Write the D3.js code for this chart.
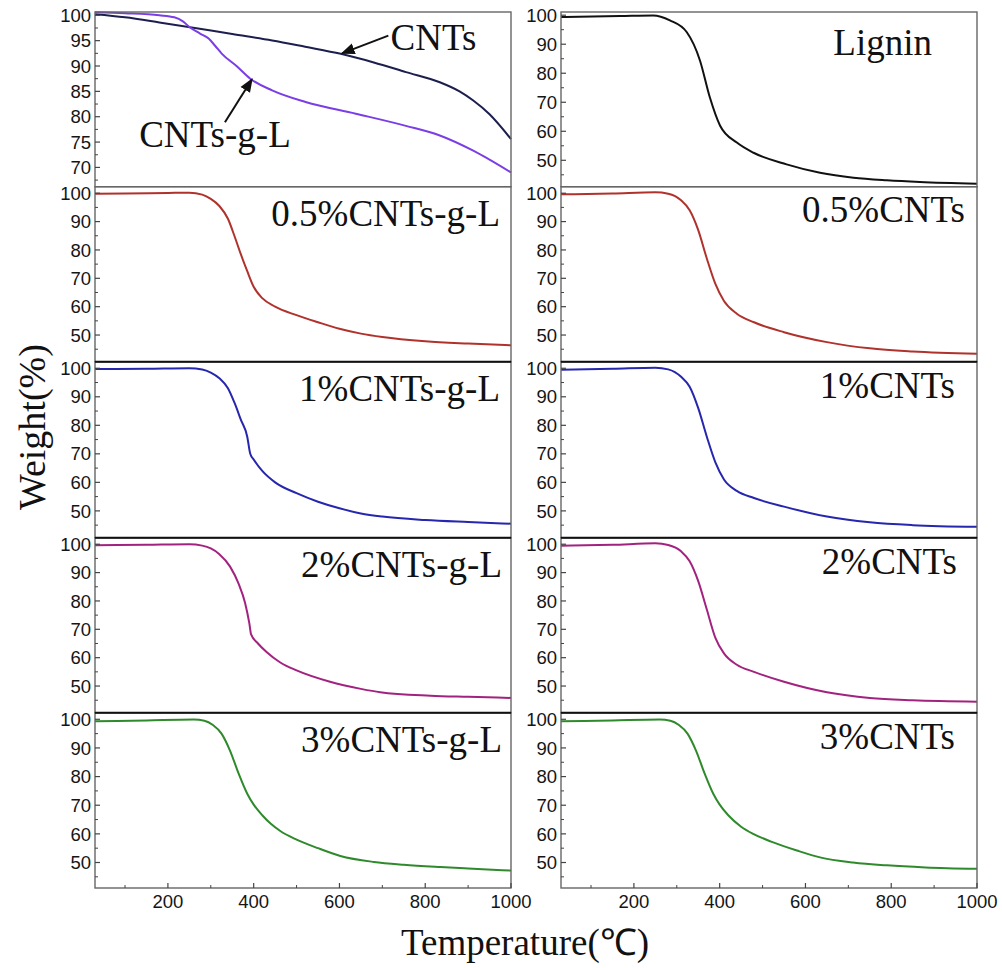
<!DOCTYPE html>
<html><head><meta charset="utf-8">
<script src="https://cdn.jsdelivr.net/npm/d3@7"></script>
<style>body{margin:0;background:#fff}</style>
</head><body><svg id="c" width="1002" height="968" xmlns="http://www.w3.org/2000/svg"></svg>
<script>
// ---- data: [temperature °C, weight %] ----
const seriesCNTs = [[30,100.2],[100,99.6],[180,98.6],[248,97.7],[350,96.3],[443,95.05],[520,93.8],[603,92.4],[680,90.7],[755,88.8],[834,86.8],[880,85.0],[912,83.2],[950,80.5],[1000,75.6]];
const seriesCNTsgL = [[30,100.6],[100,100.4],[180,100.0],[215,99.6],[235,98.8],[250,97.7],[275,96.4],[295,95.4],[310,94.0],[326,92.4],[360,90.0],[392,87.5],[443,85.2],[521,82.9],[638,80.6],[755,78.2],[834,76.3],[912,73.3],[1000,69.0]];
const seriesLignin = [[30,99.4],[168,99.7],[245,99.9],[284,98.2],[323,94.2],[354,84.4],[377,71.7],[401,61.9],[440,56.1],[479,52.6],[556,48.6],[634,45.7],[712,44.0],[790,43.1],[867,42.5],[1000,41.9]];
const series05gL = [[30,99.8],[100,99.9],[200,100.1],[250,100.2],[280,99.5],[300,98.0],[320,95.5],[340,91.0],[355,85.0],[370,78.5],[385,72.5],[400,67.0],[420,63.0],[450,60.0],[500,57.0],[550,54.5],[600,52.2],[650,50.5],[700,49.3],[800,47.8],[900,47.0],[1000,46.4]];
const series05 = [[30,99.6],[150,99.9],[250,100.3],[280,99.8],[310,97.5],[330,94.0],[350,87.0],[370,77.0],[390,68.0],[410,62.0],[440,57.5],[480,54.5],[550,51.0],[650,47.5],[750,45.3],[850,44.2],[1000,43.4]];
const series1gL = [[30,99.7],[150,99.8],[250,100.0],[280,99.6],[300,98.5],[320,96.5],[340,93.0],[355,88.0],[370,82.0],[385,76.0],[392,70.0],[400,68.0],[420,64.0],[450,60.0],[500,56.2],[550,53.2],[600,50.9],[650,49.1],[700,48.0],[800,46.8],[900,46.1],[1000,45.5]];
const series1 = [[30,99.5],[150,99.8],[250,100.2],[280,99.6],[310,97.0],[330,93.5],[350,86.0],[370,76.0],[390,67.0],[410,61.0],[440,57.0],[480,54.5],[550,51.5],[650,48.0],[750,46.0],[850,45.0],[1000,44.4]];
const series2gL = [[30,99.6],[150,99.8],[250,100.0],[280,99.5],[300,98.5],[320,96.5],[345,92.1],[365,86.0],[380,79.3],[390,72.0],[394,68.2],[410,65.0],[430,62.0],[462,58.3],[500,55.5],[578,51.5],[650,49.0],[695,47.8],[812,46.6],[900,46.2],[1000,45.8]];
const series2 = [[30,99.5],[150,99.8],[250,100.3],[280,99.7],[310,97.5],[330,94.0],[350,87.0],[370,77.0],[390,67.0],[410,61.5],[440,57.5],[480,55.0],[550,51.5],[650,47.8],[750,45.8],[850,45.0],[1000,44.5]];
const series3gL = [[30,99.3],[150,99.6],[260,99.9],[285,99.5],[305,98.0],[325,95.0],[345,89.0],[365,81.0],[385,74.0],[400,70.2],[420,66.5],[440,63.5],[462,61.0],[500,58.0],[550,55.0],[602,52.3],[680,50.2],[750,49.2],[835,48.4],[900,47.9],[1000,47.2]];
const series3 = [[30,99.3],[150,99.6],[260,99.9],[285,99.5],[305,98.0],[325,95.0],[345,89.0],[365,81.0],[385,74.0],[400,70.2],[420,66.5],[450,62.5],[478,60.0],[520,57.3],[580,54.2],[634,51.8],[711,50.0],[790,49.0],[880,48.3],[1000,47.8]];

// ---- ticks / labels ----
const xTickValues = [200, 400, 600, 800, 1000];
const xMinorTicks = [100, 300, 500, 700, 900];
const yTicksTop = [70, 75, 80, 85, 90, 95, 100];
const yMinorTop = [67.5, 72.5, 77.5, 82.5, 87.5, 92.5, 97.5];
const yTicksLower = [50, 60, 70, 80, 90, 100];
const yMinorLower = [45, 55, 65, 75, 85, 95];
const labelsLeft = ["", "0.5%CNTs-g-L", "1%CNTs-g-L", "2%CNTs-g-L", "3%CNTs-g-L"];
const labelsRight = ["Lignin", "0.5%CNTs", "1%CNTs", "2%CNTs", "3%CNTs"];
// annotation arrows in data units: [fromT, fromW, toT, toW]
const arrowCNTs = [714, 96.0, 606, 92.5];
const arrowCNTsgL = [333, 78.9, 396, 87.4];

const svg = d3.select('#c');
const cols = [[95, 511], [561, 977]];
const rowEdges = [12, 186.7, 361.7, 537.7, 712.7, 888];
const xScales = cols.map(c => d3.scaleLinear().domain([30, 1000]).range(c));

const panels = [
  {col:0,row:0,dom:[66.2,100.65],ticks:yTicksTop,minor:yMinorTop,series:[[seriesCNTs,'#1c1f4e'],[seriesCNTsgL,'#7a3ee6']]},
  {col:1,row:0,dom:[40.9,101.1],ticks:yTicksLower,minor:yMinorLower,series:[[seriesLignin,'#111']],label:labelsRight[0],lx:45,ly:43},
  {col:0,row:1,dom:[40.6,102.3],ticks:yTicksLower,minor:yMinorLower,series:[[series05gL,'#b0322c']],label:labelsLeft[1],lx:11,ly:39},
  {col:1,row:1,dom:[40.6,102.3],ticks:yTicksLower,minor:yMinorLower,series:[[series05,'#b0322c']],label:labelsRight[1],lx:12,ly:35},
  {col:0,row:2,dom:[40.6,102.3],ticks:yTicksLower,minor:yMinorLower,series:[[series1gL,'#2626ae']],label:labelsLeft[2],lx:11,ly:39},
  {col:1,row:2,dom:[40.6,102.3],ticks:yTicksLower,minor:yMinorLower,series:[[series1,'#2626ae']],label:labelsRight[2],lx:22,ly:36},
  {col:0,row:3,dom:[40.6,102.3],ticks:yTicksLower,minor:yMinorLower,series:[[series2gL,'#a2237f']],label:labelsLeft[3],lx:9,ly:39},
  {col:1,row:3,dom:[40.6,102.3],ticks:yTicksLower,minor:yMinorLower,series:[[series2,'#a2237f']],label:labelsRight[3],lx:20,ly:36},
  {col:0,row:4,dom:[41.1,102.3],ticks:yTicksLower,minor:yMinorLower,series:[[series3gL,'#2f8a2c']],label:labelsLeft[4],lx:9,ly:39},
  {col:1,row:4,dom:[41.1,102.3],ticks:yTicksLower,minor:yMinorLower,series:[[series3,'#2f8a2c']],label:labelsRight[4],lx:22,ly:36},
];

const tickFont = "'Liberation Sans', Arial, sans-serif";
const serif = "'Liberation Serif', 'Times New Roman', serif";

svg.append('defs').append('marker').attr('id','ah').attr('viewBox','0 0 10 10')
  .attr('refX',9).attr('refY',5).attr('markerWidth',7).attr('markerHeight',7).attr('orient','auto')
  .append('path').attr('d','M0,1 L10,5 L0,9 Z').attr('fill','#111');

panels.forEach(p => {
  const x = xScales[p.col];
  const y0 = rowEdges[p.row], y1 = rowEdges[p.row + 1];
  const y = d3.scaleLinear().domain(p.dom).range([y1, y0]);
  const g = svg.append('g');
  const line = d3.line().x(d => x(d[0])).y(d => y(d[1])).curve(d3.curveMonotoneX);
  p.series.forEach(([data, color]) => {
    g.append('path').datum(data).attr('d', line).attr('fill','none')
      .attr('stroke', color).attr('stroke-width', 2).attr('stroke-linejoin','round');
  });
  // frame
  g.append('rect').attr('x', x.range()[0]).attr('y', y0).attr('width', x.range()[1]-x.range()[0])
    .attr('height', y1 - y0).attr('fill','none').attr('stroke','#666').attr('stroke-width',1.4);
  if (p.row >= 2) {
    g.append('line').attr('x1', x.range()[0]).attr('x2', x.range()[1]).attr('y1', y0).attr('y2', y0)
      .attr('stroke','#111').attr('stroke-width',2);
  }
  // y ticks
  const xl = x.range()[0];
  g.selectAll('.ymaj').data(p.ticks).enter().append('line')
    .attr('x1', xl).attr('x2', xl + 5).attr('y1', d => y(d)).attr('y2', d => y(d))
    .attr('stroke','#444').attr('stroke-width',1.2);
  g.selectAll('.ymin').data(p.minor).enter().append('line')
    .attr('x1', xl).attr('x2', xl + 3).attr('y1', d => y(d)).attr('y2', d => y(d))
    .attr('stroke','#444').attr('stroke-width',1);
  g.selectAll('.ylab').data(p.ticks).enter().append('text')
    .attr('x', xl - 4).attr('y', d => y(d)).attr('dy','0.36em').attr('text-anchor','end')
    .attr('font-family', tickFont).attr('font-size', 18.5).attr('fill','#151515').text(d => d);
  // x ticks on bottom row
  if (p.row === 4) {
    g.selectAll('.xmaj').data(xTickValues).enter().append('line')
      .attr('x1', d => x(d)).attr('x2', d => x(d)).attr('y1', y1).attr('y2', y1 - 5)
      .attr('stroke','#444').attr('stroke-width',1.2);
    g.selectAll('.xmin').data(xMinorTicks).enter().append('line')
      .attr('x1', d => x(d)).attr('x2', d => x(d)).attr('y1', y1).attr('y2', y1 - 3)
      .attr('stroke','#444').attr('stroke-width',1);
    g.selectAll('.xlab').data(xTickValues).enter().append('text')
      .attr('x', d => x(d)).attr('y', y1 + 20).attr('text-anchor','middle')
      .attr('font-family', tickFont).attr('font-size', 18.5).attr('fill','#151515').text(d => d);
  }
  if (p.label) {
    g.append('text').attr('x', x.range()[1] - p.lx).attr('y', y0 + p.ly).attr('text-anchor','end')
      .attr('font-family', serif).attr('font-size', 37).attr('fill','#111').text(p.label);
  }
  if (p.row === 0 && p.col === 0) {
    g.append('text').attr('x', x(719)).attr('y', y(93.2)).attr('font-family', serif)
      .attr('font-size', 37).attr('fill','#111').text('CNTs');
    g.append('text').attr('x', x(133)).attr('y', y(73.95)).attr('font-family', serif)
      .attr('font-size', 37).attr('fill','#111').text('CNTs-g-L');
    [arrowCNTs, arrowCNTsgL].forEach(a => {
      g.append('line').attr('x1', x(a[0])).attr('y1', y(a[1])).attr('x2', x(a[2])).attr('y2', y(a[3]))
        .attr('stroke','#111').attr('stroke-width',2).attr('marker-end','url(#ah)');
    });
  }
});

svg.append('text').attr('transform','translate(45,427) rotate(-90)').attr('text-anchor','middle')
  .attr('font-family', serif).attr('font-size', 38).attr('fill','#111').text('Weight(%)');
svg.append('text').attr('x', 525).attr('y', 955).attr('text-anchor','middle')
  .attr('font-family', serif).attr('font-size', 37).attr('fill','#111').text('Temperature(℃)');
</script></body></html>
